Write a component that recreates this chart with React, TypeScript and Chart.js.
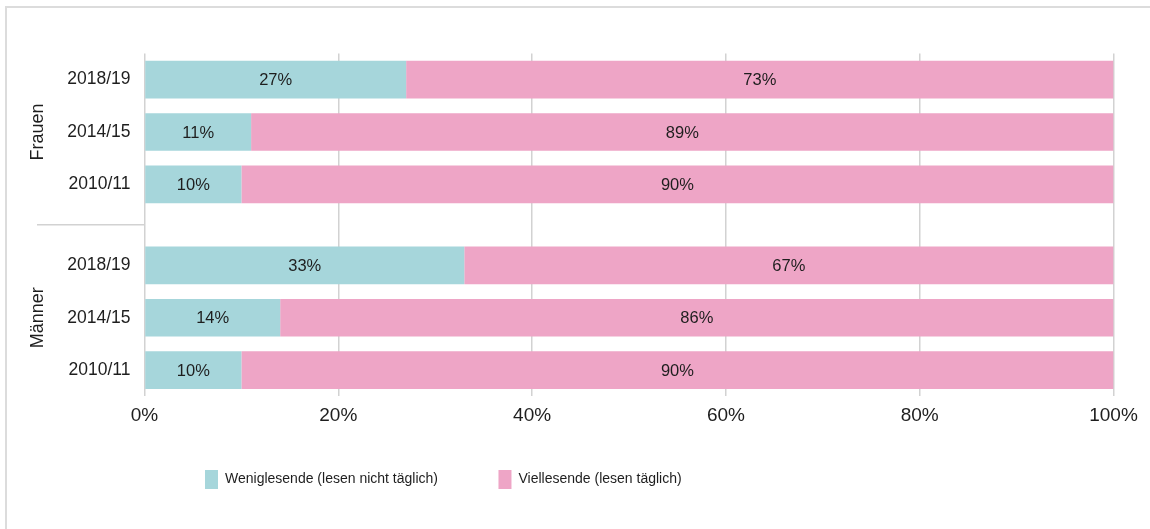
import React, { useEffect, useRef } from "react";
import { Chart, registerables } from "chart.js";

Chart.register(...registerables);

const categories = ["2018/19", "2014/15", "2010/11"];
const groupLabels = ["Frauen", "Männer"];
const seriesNames = ["Weniglesende (lesen nicht täglich)", "Viellesende (lesen täglich)"];
const frauenWenig = [27, 11, 10];
const frauenViel = [73, 89, 90];
const maennerWenig = [33, 14, 10];
const maennerViel = [67, 86, 90];
const xTicks = [0, 20, 40, 60, 80, 100];

const TEAL = "#a6d6db";
const PINK = "#eea5c6";
const GRID = "#d2d2d2";
const TEXT = "#1e1e1e";
const FONT = "'Liberation Sans', Arial, sans-serif";
const LEGEND_PAD = 60.5;
const LEGEND_ROW_TOP = 470;

const framePlugin = {
  id: "frame",
  afterLayout(chart: any) {
    const lg = chart.legend;
    if (!lg) return;
    const dy = lg.top + LEGEND_PAD - LEGEND_ROW_TOP;
    lg.top -= dy;
    lg.bottom -= dy;
  },
  beforeDraw(chart: any) {
    const ctx = chart.ctx;
    ctx.save();
    ctx.strokeStyle = "#dcdcdc";
    ctx.lineWidth = 2;
    ctx.strokeRect(6, 7, chart.width + 20, chart.height + 20);
    ctx.restore();
  },
  afterDraw(chart: any) {
    const sp = chart.scales.ySpacer;
    if (!sp) return;
    const ctx = chart.ctx;
    const y = (sp.top + sp.bottom) / 2;
    ctx.save();
    ctx.strokeStyle = GRID;
    ctx.lineWidth = 1.5;
    ctx.beginPath();
    ctx.moveTo(37, y);
    ctx.lineTo(chart.chartArea.left, y);
    ctx.stroke();
    ctx.restore();
  },
};

const labelPlugin = {
  id: "barLabels",
  afterDatasetsDraw(chart: any) {
    const ctx = chart.ctx;
    ctx.save();
    ctx.font = `16.5px ${FONT}`;
    ctx.fillStyle = TEXT;
    ctx.textAlign = "center";
    ctx.textBaseline = "middle";
    chart.data.datasets.forEach((ds: any, di: number) => {
      const meta = chart.getDatasetMeta(di);
      meta.data.forEach((el: any, i: number) => {
        const v = ds.data[i];
        const cx = (el.x + el.base) / 2;
        ctx.fillText(`${v}%`, cx, el.y + 1);
      });
    });
    ctx.restore();
  },
};

const yAxisWidth = 132.5;
const fixWidth = (scale: any) => {
  scale.width = yAxisWidth;
};

const yCommon = {
  type: "category",
  position: "left",
  stack: "groups",
  offset: true,
  afterFit: fixWidth,
  grid: { display: false, drawTicks: false },
  border: { display: false },
};

export default function App() {
  const ref = useRef<HTMLCanvasElement>(null);

  useEffect(() => {
    if (!ref.current) return;
    const chart = new Chart(ref.current, {
      type: "bar",
      data: {
        labels: categories,
        datasets: [
          { label: seriesNames[0], data: frauenWenig, backgroundColor: TEAL, yAxisID: "yF" },
          { label: seriesNames[1], data: frauenViel, backgroundColor: PINK, yAxisID: "yF" },
          { label: seriesNames[0], data: maennerWenig, backgroundColor: TEAL, yAxisID: "yM" },
          { label: seriesNames[1], data: maennerViel, backgroundColor: PINK, yAxisID: "yM" },
        ],
      },
      options: {
        indexAxis: "y",
        responsive: false,
        animation: false,
        datasets: { bar: { barPercentage: 0.72, categoryPercentage: 1, grouped: false } },
        layout: { padding: { left: 12, right: 36.5, top: 53.5, bottom: 4.5 } },
        scales: {
          x: {
            type: "linear",
            stacked: true,
            min: 0,
            max: 100,
            afterBuildTicks: (s: any) => {
              s.ticks = xTicks.map((v) => ({ value: v }));
            },
            grid: { color: GRID, lineWidth: 1.5, drawTicks: false },
            border: { display: false },
            ticks: {
              padding: 8,
              color: TEXT,
              font: { family: FONT, size: 19 },
              callback: (v: any) => `${v}%`,
            },
          },
          yM: {
            ...yCommon,
            labels: categories,
            stackWeight: 3,
            stacked: true,
            ticks: { padding: 14, color: TEXT, font: { family: FONT, size: 17.5 } },
            title: { display: true, text: groupLabels[1], color: TEXT, font: { family: FONT, size: 18 }, padding: { top: 15, bottom: 0 } },
          },
          ySpacer: {
            ...yCommon,
            labels: [""],
            stackWeight: 0.55,
            ticks: { display: false },
          },
          yF: {
            ...yCommon,
            labels: categories,
            stackWeight: 3,
            stacked: true,
            ticks: { padding: 14, color: TEXT, font: { family: FONT, size: 17.5 } },
            title: { display: true, text: groupLabels[0], color: TEXT, font: { family: FONT, size: 18 }, padding: { top: 15, bottom: 0 } },
          },
        } as any,
        plugins: {
          legend: {
            position: "bottom",
            align: "start",
            fullSize: false,
            labels: {
              boxWidth: 13,
              boxHeight: 19,
              padding: LEGEND_PAD,
              color: TEXT,
              font: { family: FONT, size: 14 },
              filter: (item: any) => item.datasetIndex < 2,
            },
          },
          tooltip: { enabled: false },
        },
      } as any,
      plugins: [framePlugin, labelPlugin],
    });
    return () => chart.destroy();
  }, []);

  return (
    <div style={{ position: "fixed", left: 0, top: 0, width: 1150, height: 529, background: "#fff" }}>
      <canvas ref={ref} width={1150} height={529} style={{ display: "block" }} />
    </div>
  );
}
